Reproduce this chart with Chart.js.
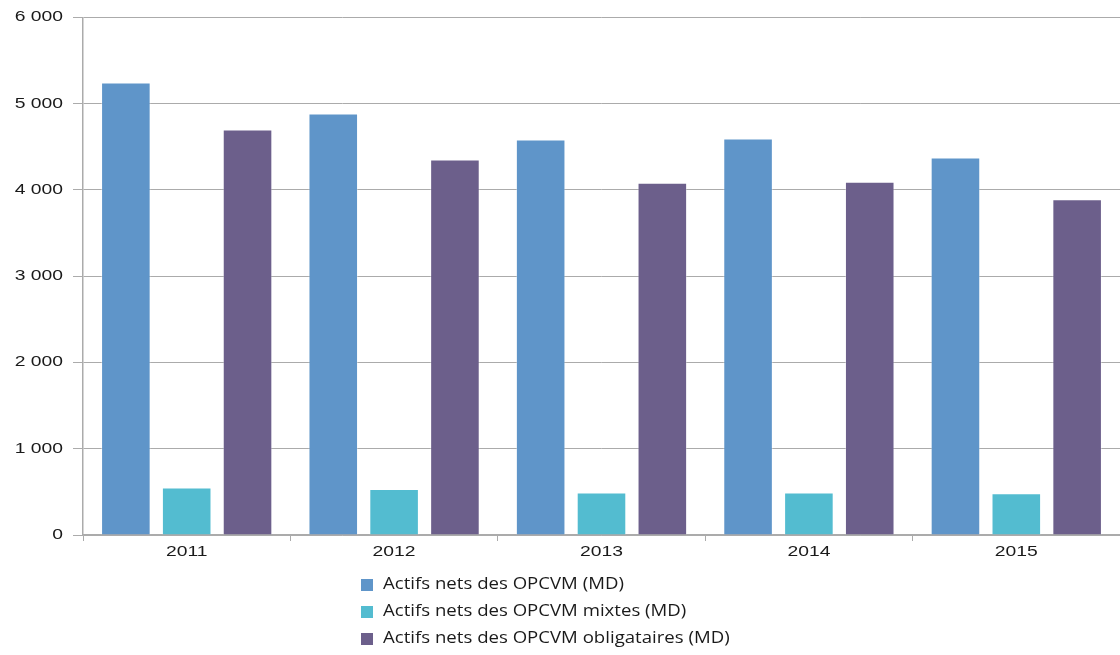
<!DOCTYPE html>
<html>
<head>
<meta charset="utf-8">
<script src="https://cdn.jsdelivr.net/npm/chart.js@4/dist/chart.umd.min.js"></script>
<style>
  html, body { margin: 0; padding: 0; background: #fff; overflow: hidden; }
  #wrap { width: 1120px; height: 655px; position: relative; }
</style>
</head>
<body>
<div id="wrap"><canvas id="chart"></canvas></div>
<script>
const years = ['2011', '2012', '2013', '2014', '2015'];
const actifsTotal = [5245, 4885, 4585, 4595, 4375];
const actifsMixtes = [550, 532, 494, 494, 484];
const actifsObligataires = [4700, 4352, 4082, 4095, 3892];
const seriesLabels = [
  'Actifs nets des OPCVM (MD)',
  'Actifs nets des OPCVM mixtes (MD)',
  'Actifs nets des OPCVM obligataires (MD)'
];
const seriesColors = ['#5f95c9', '#53bcd0', '#6c5f8b'];

const textColor = '#1a1a1a';
const tickFont = '14px "Liberation Sans"';
const stretch = 1.38;

function drawWide(ctx, text, x, y, align) {
  ctx.save();
  ctx.translate(x, y);
  ctx.scale(stretch, 1);
  ctx.textAlign = align;
  ctx.fillText(text, 0, 0);
  ctx.restore();
}

// axis labels in a horizontally stretched face, placed from the scales
const wideTicks = {
  id: 'wideTicks',
  afterDraw(chart) {
    const ctx = chart.ctx;
    const { x, y } = chart.scales;
    ctx.save();
    ctx.font = tickFont;
    ctx.fillStyle = textColor;
    ctx.textBaseline = 'middle';
    y.ticks.forEach((t, i) => {
      drawWide(ctx, y.getLabelForValue(t.value) && fmt(t.value), y.right - 20, y.getPixelForTick(i), 'right');
    });
    x.ticks.forEach((t, i) => {
      drawWide(ctx, chart.data.labels[t.value], x.getPixelForTick(i), x.top + 17, 'center');
    });
    ctx.restore();
  }
};

// legend drawn as a vertical list under the plot
const listLegend = {
  id: 'listLegend',
  afterDraw(chart) {
    const ctx = chart.ctx;
    ctx.save();
    ctx.font = '15.5px "Open Sans"';
    ctx.textBaseline = 'middle';
    chart.data.datasets.forEach((ds, i) => {
      const y = 585 + i * 27;
      ctx.fillStyle = ds.backgroundColor;
      ctx.fillRect(361, y - 6, 12, 12);
      ctx.save();
      ctx.translate(383, y);
      ctx.scale(1.2, 1);
      ctx.fillStyle = textColor;
      ctx.fillText(ds.label, 0, 0);
      ctx.restore();
    });
    ctx.restore();
  }
};

const fmt = (v) => String(v).replace(/\B(?=(\d{3})+(?!\d))/g, ' ');
const gridColor = '#ababab';

new Chart(document.getElementById('chart'), {
  type: 'bar',
  data: {
    labels: years,
    datasets: [actifsTotal, actifsMixtes, actifsObligataires].map((values, i) => ({
      label: seriesLabels[i],
      data: values,
      backgroundColor: seriesColors[i],
      borderColor: 'rgba(255,255,255,0.35)',
      borderWidth: 1,
      categoryPercentage: 0.88,
      barPercentage: 0.815
    }))
  },
  options: {
    responsive: true,
    maintainAspectRatio: false,
    animation: false,
    layout: { padding: { top: 6, right: 0, bottom: 90, left: 0 } },
    plugins: {
      legend: { display: false },
      tooltip: { enabled: false }
    },
    scales: {
      x: {
        afterFit: (s) => { s.height = 30; },
        grid: {
          offset: true,
          drawOnChartArea: false,
          tickLength: 6,
          color: gridColor
        },
        border: { color: gridColor, width: 1.5 },
        ticks: { color: 'transparent', font: { size: 14 }, padding: 4 }
      },
      y: {
        min: 0,
        max: 6000,
        afterFit: (s) => { s.width = 83; },
        grid: { color: gridColor, tickLength: 10 },
        border: { color: gridColor, width: 1.5 },
        ticks: {
          stepSize: 1000,
          color: 'transparent',
          padding: 9,
          font: { size: 14 },
          callback: fmt
        }
      }
    }
  },
  plugins: [wideTicks, listLegend]
});
</script>
</body>
</html>
